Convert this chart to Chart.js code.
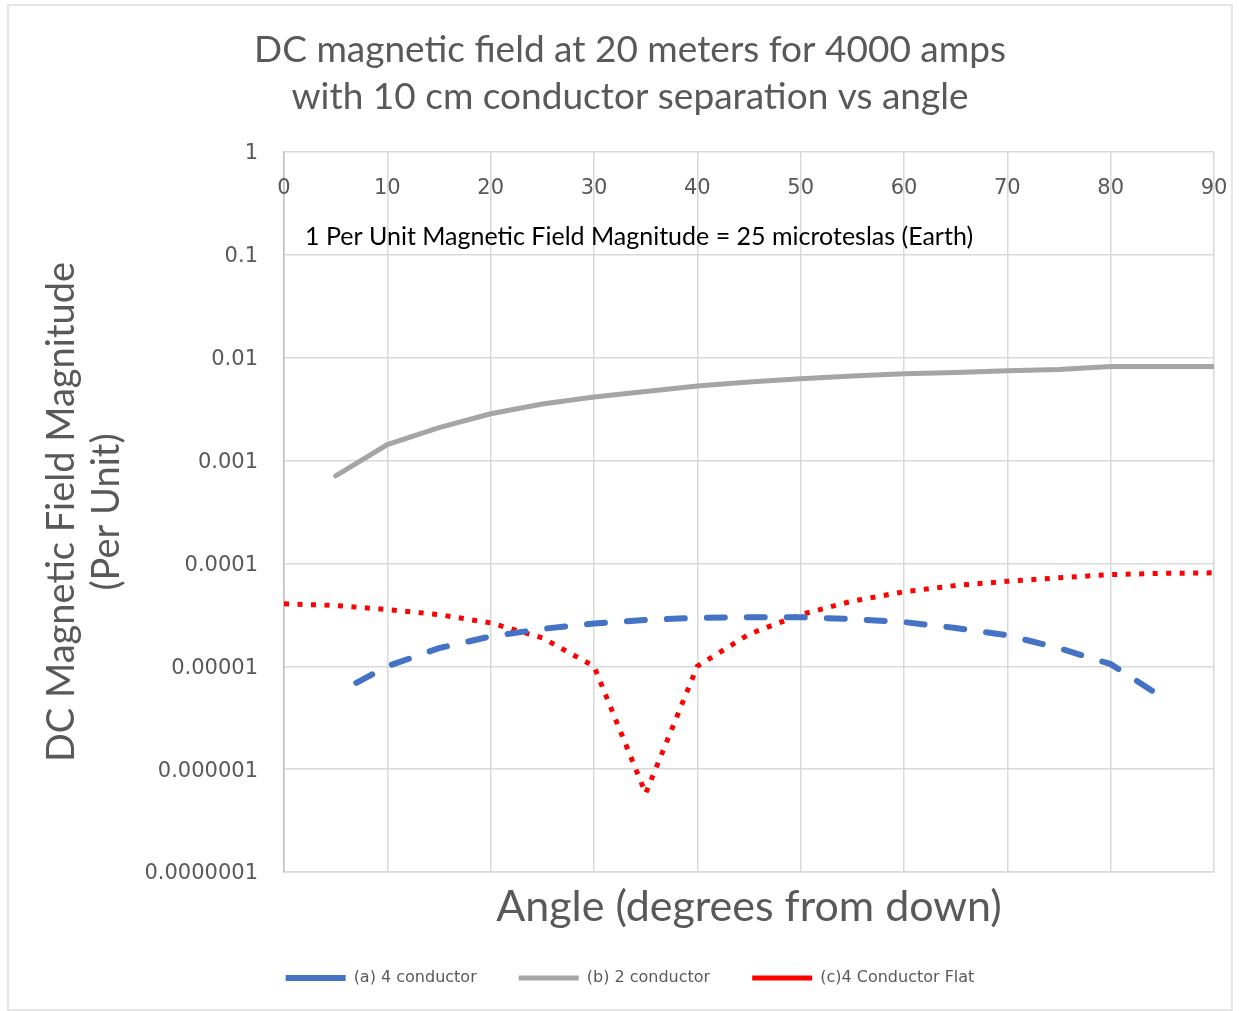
<!DOCTYPE html>
<html>
<head>
<meta charset="utf-8">
<title>DC magnetic field vs angle</title>
<script src="https://cdn.jsdelivr.net/npm/chart.js@4.4.1/dist/chart.umd.min.js"></script>
<style>
  html, body { margin: 0; padding: 0; background: #fff; }
  #wrap { position: relative; width: 1239px; height: 1011px; }
  #frame { position: absolute; left: 7px; top: 4px; width: 1222px; height: 1003px; border: 2px solid #e6e6e6; pointer-events: none; }
</style>
</head>
<body>
<div id="wrap">
  <canvas id="fieldChart"></canvas>
  <div id="frame"></div>
</div>
<script>
  // angles are degrees from down, values are per unit (1 pu = 25 microteslas)
  const anglesA = [7, 10, 15, 20, 25, 30, 35, 40, 45, 50, 55, 60, 65, 70, 75, 80, 85];
  const fieldA = [6.9e-6, 1.0e-5, 1.5e-5, 1.95e-5, 2.31e-5, 2.6e-5, 2.82e-5, 2.96e-5, 3.0e-5, 3.0e-5, 2.88e-5, 2.69e-5, 2.36e-5, 2.0e-5, 1.5e-5, 1.05e-5, 5.0e-6];

  const anglesB = [5, 10, 15, 20, 25, 30, 35, 40, 45, 50, 55, 60, 65, 70, 75, 80, 85, 90];
  const fieldB = [7.1e-4, 1.43e-3, 2.09e-3, 2.85e-3, 3.55e-3, 4.15e-3, 4.7e-3, 5.3e-3, 5.8e-3, 6.25e-3, 6.65e-3, 7.0e-3, 7.2e-3, 7.45e-3, 7.7e-3, 8.2e-3, 8.2e-3, 8.2e-3];

  const anglesC = [0, 5, 10, 15, 20, 25, 30, 35, 40, 45, 50, 55, 60, 65, 70, 75, 80, 85, 90];
  const fieldC = [4.05e-5, 3.9e-5, 3.56e-5, 3.18e-5, 2.64e-5, 1.89e-5, 1.0e-5, 5.8e-7, 1.0e-5, 2.05e-5, 3.18e-5, 4.3e-5, 5.3e-5, 6.1e-5, 6.7e-5, 7.25e-5, 7.8e-5, 8.0e-5, 8.1e-5];

  const seriesNames = ['(a) 4 conductor', '(b) 2 conductor', '(c)4 Conductor Flat'];

  const xTickValues = [0, 10, 20, 30, 40, 50, 60, 70, 80, 90];
  const xTickLabels = ['0', '10', '20', '30', '40', '50', '60', '70', '80', '90'];
  const yTickValues = [1e-7, 1e-6, 1e-5, 1e-4, 1e-3, 1e-2, 1e-1, 1];
  const yTickLabels = ['0.0000001', '0.000001', '0.00001', '0.0001', '0.001', '0.01', '0.1', '1'];

  const noteText = '1 Per Unit Magnetic Field Magnitude = 25 microteslas (Earth)';

  function toPoints(xs, ys) {
    return xs.map((x, i) => ({ x: x, y: ys[i] }));
  }

  // x labels sit inside the plot near the top, plus the note line
  const topLabels = {
    id: 'topLabels',
    afterDraw(chart) {
      const { ctx, chartArea } = chart;
      const x = chart.scales.x;
      ctx.save();
      ctx.font = '21px "DejaVu Sans"';
      ctx.fillStyle = '#595959';
      ctx.textAlign = 'center';
      ctx.textBaseline = 'middle';
      xTickValues.forEach((v, i) => {
        ctx.fillText(xTickLabels[i], x.getPixelForValue(v), chartArea.top + 37);
      });
      ctx.font = '25px Lato';
      ctx.fillStyle = '#000';
      ctx.textAlign = 'left';
      ctx.fillText(noteText, chartArea.left + 21, chartArea.top + 85);
      ctx.restore();
    }
  };

  Chart.defaults.font.family = 'Lato';

  const ctx = document.getElementById('fieldChart').getContext('2d');
  const chart = new Chart(ctx, {
    type: 'scatter',
    data: {
      datasets: [{
        label: seriesNames[0],
        data: toPoints(anglesA, fieldA),
        showLine: true,
        borderColor: '#4472C4',
        backgroundColor: '#4472C4',
        borderWidth: 6,
        borderDash: [18, 22],
        borderCapStyle: 'round',
        pointRadius: 0,
        tension: 0
      }, {
        label: seriesNames[1],
        data: toPoints(anglesB, fieldB),
        showLine: true,
        borderColor: '#A5A5A5',
        backgroundColor: '#A5A5A5',
        borderWidth: 5,
        borderCapStyle: 'round',
        pointRadius: 0,
        tension: 0
      }, {
        label: seriesNames[2],
        data: toPoints(anglesC, fieldC),
        showLine: true,
        borderColor: '#FF0000',
        backgroundColor: '#FF0000',
        borderWidth: 5,
        borderDash: [5, 8.5],
        borderCapStyle: 'butt',
        pointRadius: 0,
        tension: 0
      }]
    },
    options: {
      responsive: true,
      maintainAspectRatio: false,
      animation: false,
      layout: { padding: { left: 46, right: 25, top: 5, bottom: 15 } },
      plugins: {
        title: {
          display: true,
          text: ['DC magnetic field at 20 meters for 4000 amps', 'with 10 cm conductor separation vs angle'],
          color: '#595959',
          font: { size: 37, weight: 'normal', lineHeight: 47 / 37 },
          padding: { top: 21.5, bottom: 31.5 }
        },
        legend: {
          position: 'bottom',
          labels: {
            usePointStyle: true,
            pointStyle: 'line',
            pointStyleWidth: 60,
            padding: 42,
            color: '#595959',
            font: { family: '"DejaVu Sans"', size: 16 }
          }
        },
        tooltip: { enabled: false }
      },
      scales: {
        x: {
          type: 'linear',
          position: 'bottom',
          min: 0,
          max: 90,
          ticks: { display: false, stepSize: 10 },
          grid: { color: '#D9D9D9', lineWidth: 1.5, drawTicks: false },
          border: { color: '#D9D9D9', width: 1.5 },
          title: {
            display: true,
            text: 'Angle (degrees from down)',
            color: '#595959',
            font: { size: 43, lineHeight: 1.2 },
            padding: { top: 9.2, bottom: -4.8 }
          }
        },
        y: {
          type: 'logarithmic',
          min: 1e-7,
          max: 1,
          afterBuildTicks: scale => {
            scale.ticks = yTickValues.map(v => ({ value: v }));
          },
          afterFit: scale => {
            scale.width = 238;
          },
          ticks: {
            color: '#595959',
            padding: 26,
            labelOffset: 2,
            font: { family: '"DejaVu Sans"', size: 21 },
            callback: (value, index) => yTickLabels[index]
          },
          grid: { color: '#D9D9D9', lineWidth: 1.5, drawTicks: false },
          border: { color: '#BFBFBF', width: 1.5 },
          title: {
            display: true,
            text: ['DC Magnetic Field Magnitude', '(Per Unit)'],
            color: '#595959',
            font: { size: 38, lineHeight: 45 / 38 },
            padding: { top: -6.5, bottom: 0 }
          }
        }
      }
    },
    plugins: [topLabels]
  });
</script>
</body>
</html>
